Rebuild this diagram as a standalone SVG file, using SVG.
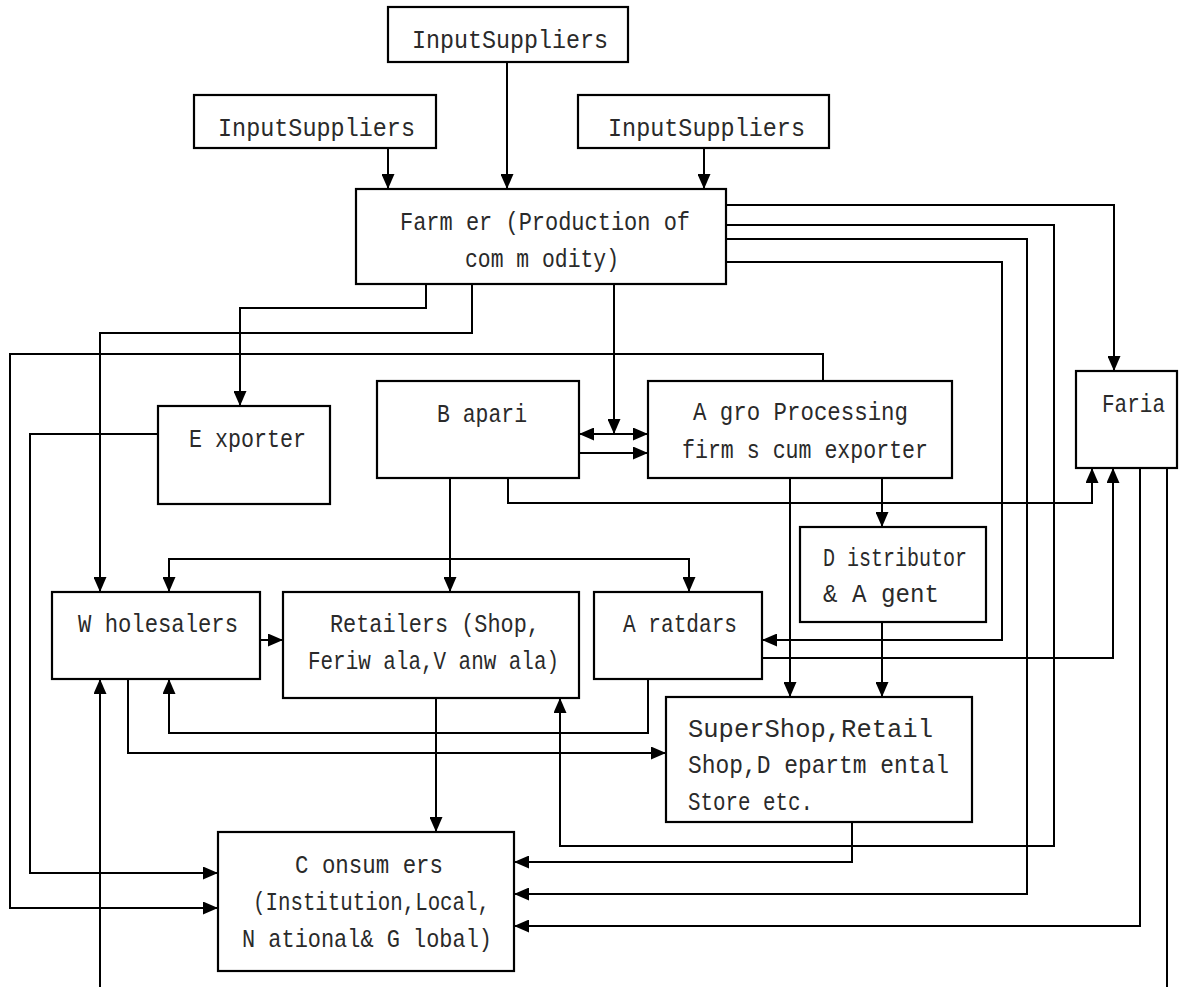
<svg xmlns="http://www.w3.org/2000/svg" width="1179" height="997" viewBox="0 0 1179 997">
<style>
.box{fill:#fff;stroke:#000;stroke-width:2.2}
.t{font-family:"Liberation Mono","DejaVu Sans Mono",monospace;font-size:25px;fill:#2a2a2a}
.c path{fill:none;stroke:#000;stroke-width:2}
</style>
<defs>
<marker id="ah" viewBox="0 0 15 13" refX="15" refY="6.5" markerWidth="15" markerHeight="13" markerUnits="userSpaceOnUse" orient="auto-start-reverse">
<path d="M0,0 L15,6.5 L0,13 z" fill="#000"/>
</marker>
</defs>
<rect width="1179" height="997" fill="#fff"/>
<g class="c" id="connectors">
<path d="M507,62 V189" marker-end="url(#ah)"/>
<path d="M388,148 V189" marker-end="url(#ah)"/>
<path d="M704,148 V189" marker-end="url(#ah)"/>
<path d="M726,205 H1114 V371" marker-end="url(#ah)"/>
<path d="M726,225 H1054 V846 H560 V698" marker-end="url(#ah)"/>
<path d="M726,239 H1027 V894 H514" marker-end="url(#ah)"/>
<path d="M726,262 H1002 V640 H762" marker-end="url(#ah)"/>
<path d="M426,284 V308 H240 V406" marker-end="url(#ah)"/>
<path d="M472,284 V333 H100 V592" marker-end="url(#ah)"/>
<path d="M614,284 V434" marker-end="url(#ah)"/>
<path d="M579,434 H648" marker-start="url(#ah)" marker-end="url(#ah)"/>
<path d="M579,453 H648" marker-end="url(#ah)"/>
<path d="M823,381 V354 H10 V908 H218" marker-end="url(#ah)"/>
<path d="M158,434 H30 V873 H218" marker-end="url(#ah)"/>
<path d="M450,478 V592" marker-end="url(#ah)"/>
<path d="M169,592 V559 H689 V592" marker-start="url(#ah)" marker-end="url(#ah)"/>
<path d="M508,478 V503 H1092 V468" marker-end="url(#ah)"/>
<path d="M790,478 V697" marker-end="url(#ah)"/>
<path d="M882,478 V527" marker-end="url(#ah)"/>
<path d="M882,622 V697" marker-end="url(#ah)"/>
<path d="M762,658 H1113 V468" marker-end="url(#ah)"/>
<path d="M260,640 H283" marker-end="url(#ah)"/>
<path d="M648,679 V733 H169 V679" marker-end="url(#ah)"/>
<path d="M128,679 V753 H666" marker-end="url(#ah)"/>
<path d="M436,698 V832" marker-end="url(#ah)"/>
<path d="M852,822 V862 H514" marker-end="url(#ah)"/>
<path d="M1140,468 V926 H514" marker-end="url(#ah)"/>
<path d="M1167,468 V987"/>
<path d="M100,987 V679" marker-end="url(#ah)"/>
</g>
<g id="is-top"><rect class="box" x="388" y="7" width="240" height="55"/><text class="t" x="412" y="48" textLength="196" lengthAdjust="spacingAndGlyphs">InputSuppliers</text></g>
<g id="is-left"><rect class="box" x="194" y="95" width="242" height="53"/><text class="t" x="218" y="136" textLength="197" lengthAdjust="spacingAndGlyphs">InputSuppliers</text></g>
<g id="is-right"><rect class="box" x="578" y="95" width="251" height="53"/><text class="t" x="608" y="136" textLength="197" lengthAdjust="spacingAndGlyphs">InputSuppliers</text></g>
<g id="farmer"><rect class="box" x="356" y="189" width="370" height="95"/><text class="t" x="400" y="230" textLength="290" lengthAdjust="spacingAndGlyphs">Farm er (Production of</text><text class="t" x="465" y="267" textLength="154" lengthAdjust="spacingAndGlyphs">com m odity)</text></g>
<g id="exporter"><rect class="box" x="158" y="406" width="172" height="98"/><text class="t" x="189" y="447" textLength="117" lengthAdjust="spacingAndGlyphs">E xporter</text></g>
<g id="bapari"><rect class="box" x="377" y="381" width="202" height="97"/><text class="t" x="437" y="422" textLength="90" lengthAdjust="spacingAndGlyphs">B apari</text></g>
<g id="agro"><rect class="box" x="648" y="381" width="304" height="97"/><text class="t" x="693" y="420" textLength="215" lengthAdjust="spacingAndGlyphs">A gro Processing</text><text class="t" x="682" y="458" textLength="246" lengthAdjust="spacingAndGlyphs">firm s cum  exporter</text></g>
<g id="faria"><rect class="box" x="1076" y="371" width="101" height="97"/><text class="t" x="1102" y="412" textLength="63" lengthAdjust="spacingAndGlyphs">Faria</text></g>
<g id="distributor"><rect class="box" x="800" y="527" width="186" height="95"/><text class="t" x="823" y="566" textLength="144" lengthAdjust="spacingAndGlyphs">D istributor</text><text class="t" x="823" y="602" textLength="116" lengthAdjust="spacingAndGlyphs">&amp; A gent</text></g>
<g id="wholesalers"><rect class="box" x="52" y="592" width="208" height="87"/><text class="t" x="78" y="632" textLength="160" lengthAdjust="spacingAndGlyphs">W holesalers</text></g>
<g id="retailers"><rect class="box" x="283" y="592" width="296" height="106"/><text class="t" x="330" y="632" textLength="210" lengthAdjust="spacingAndGlyphs">Retailers (Shop,</text><text class="t" x="308" y="669" textLength="251" lengthAdjust="spacingAndGlyphs">Feriw ala,V anw ala)</text></g>
<g id="aratdars"><rect class="box" x="594" y="592" width="168" height="87"/><text class="t" x="623" y="632" textLength="114" lengthAdjust="spacingAndGlyphs">A ratdars</text></g>
<g id="supershop"><rect class="box" x="666" y="697" width="306" height="125"/><text class="t" x="688" y="737" textLength="245" lengthAdjust="spacingAndGlyphs">SuperShop,Retail</text><text class="t" x="688" y="773" textLength="261" lengthAdjust="spacingAndGlyphs">Shop,D epartm ental</text><text class="t" x="688" y="810" textLength="125" lengthAdjust="spacingAndGlyphs">Store etc.</text></g>
<g id="consumers"><rect class="box" x="218" y="832" width="296" height="139"/><text class="t" x="295" y="873" textLength="148" lengthAdjust="spacingAndGlyphs">C onsum ers</text><text class="t" x="253" y="910" textLength="237" lengthAdjust="spacingAndGlyphs">(Institution,Local,</text><text class="t" x="242" y="947" textLength="250" lengthAdjust="spacingAndGlyphs">N ational&amp; G lobal)</text></g>
</svg>
